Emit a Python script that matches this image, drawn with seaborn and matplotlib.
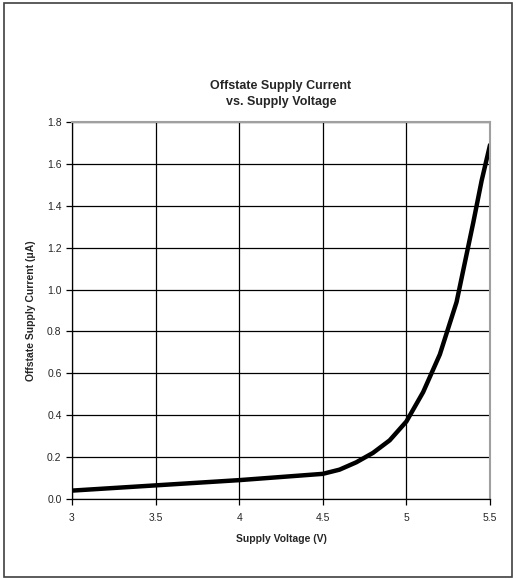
import pandas as pd
import matplotlib.pyplot as plt
import seaborn as sns
from matplotlib.patches import Rectangle

# Dados
tensao = [3.0, 3.5, 4.0, 4.5, 4.6, 4.7, 4.8, 4.9, 5.0, 5.1, 5.2, 5.3, 5.4, 5.45, 5.5]
corrente = [0.04, 0.065, 0.09, 0.12, 0.14, 0.175, 0.22, 0.28, 0.37, 0.51, 0.69, 0.94, 1.32, 1.52, 1.69]
x_ticks = [3, 3.5, 4, 4.5, 5, 5.5]
x_labels = ['3', '3.5', '4', '4.5', '5', '5.5']
y_ticks = [0.0, 0.2, 0.4, 0.6, 0.8, 1.0, 1.2, 1.4, 1.6, 1.8]

df = pd.DataFrame({'tensao': tensao, 'corrente': corrente})

sns.set_style('white')
plt.rcParams['font.family'] = ['Liberation Sans', 'DejaVu Sans']

fig = plt.figure(figsize=(5.16, 5.79), dpi=100)
ax = fig.add_axes([0.1395, 0.1382, 0.8101, 0.6511])

sns.lineplot(data=df, x='tensao', y='corrente', ax=ax, color='black', linewidth=3.2)

ax.set_xlim(3, 5.5)
ax.set_ylim(0, 1.8)
ax.set_xticks(x_ticks)
ax.set_xticklabels(x_labels)
ax.set_yticks(y_ticks)
ax.set_yticklabels([f'{v:.1f}' for v in y_ticks])
ax.grid(True, color='black', linewidth=0.9)
ax.set_axisbelow(True)
ax.tick_params(axis='both', direction='out', length=4, width=0.9, color='black',
               labelsize=7.5, bottom=True, left=True)
ax.tick_params(axis='x', pad=6)

for lado in ['left', 'bottom']:
    ax.spines[lado].set_color('black')
    ax.spines[lado].set_linewidth(0.9)
for lado in ['top', 'right']:
    ax.spines[lado].set_color('#a0a0a0')
    ax.spines[lado].set_linewidth(1.5)

# Título e rótulos
ax.set_title('Offstate Supply Current\nvs. Supply Voltage', fontsize=9, fontweight='bold',
             pad=12, linespacing=1.45)
ax.set_xlabel('Supply Voltage (V)', fontsize=7.5, fontweight='bold', labelpad=8)
ax.set_ylabel('Offstate Supply Current (μA)', fontsize=7.5, fontweight='bold', labelpad=8)

# Moldura externa
fig.patches.append(Rectangle((0.008, 0.004), 0.984, 0.99, transform=fig.transFigure,
                             fill=False, edgecolor='#404040', linewidth=1.2))

fig.savefig('out.png', dpi=100)
